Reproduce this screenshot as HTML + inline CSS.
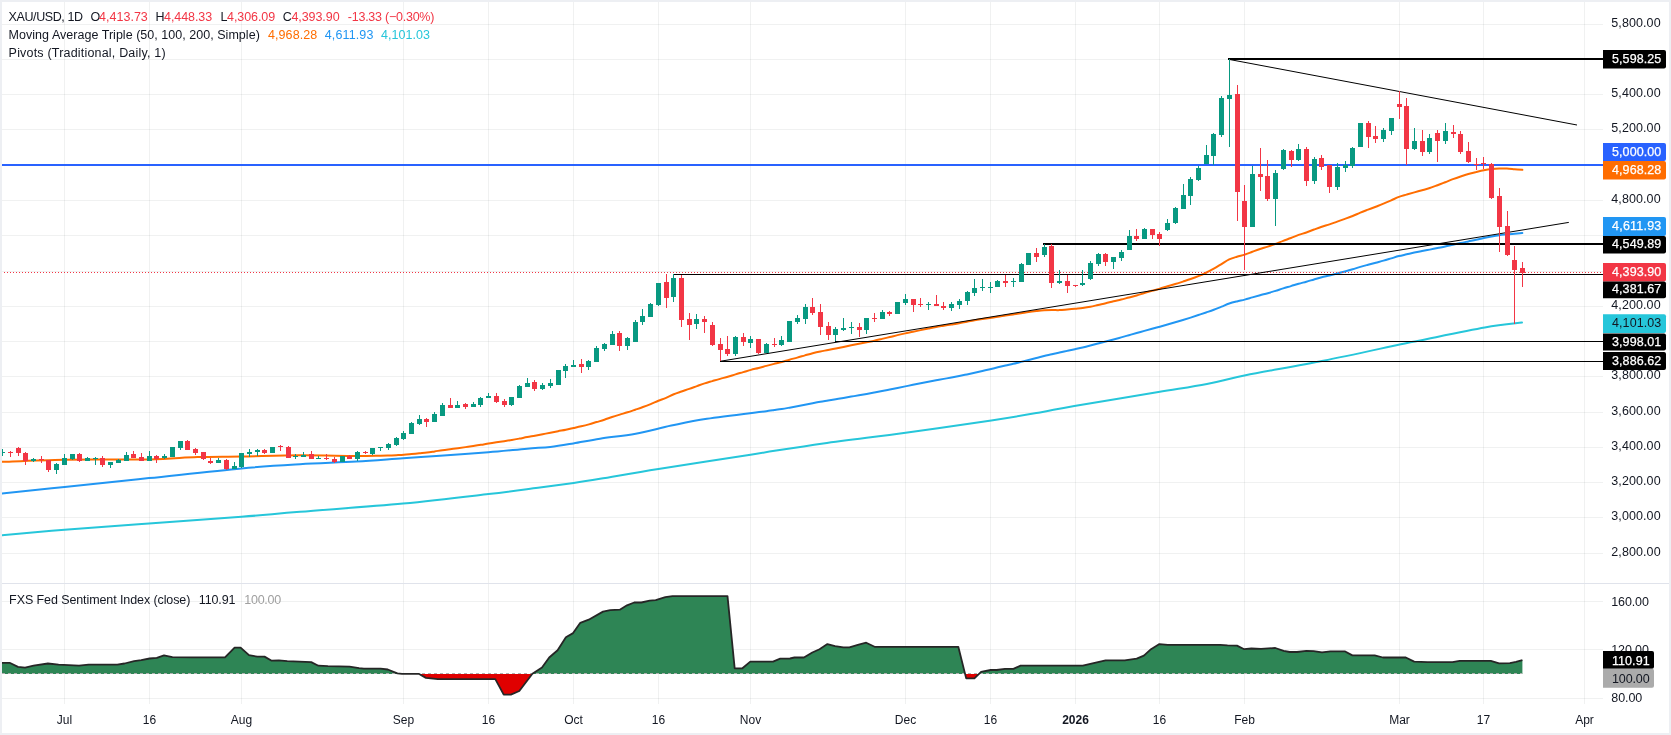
<!DOCTYPE html>
<html><head><meta charset="utf-8"><style>
html,body{margin:0;padding:0;}
body{width:1671px;height:735px;overflow:hidden;position:relative;background:#edeff3;}
#c{position:absolute;left:2px;top:2px;width:1667px;height:731px;background:#fff;}
</style></head><body><div id="c"></div>
<svg width="1671" height="735" style="position:absolute;left:0;top:0;will-change:transform"><g shape-rendering="crispEdges" stroke="rgba(42,50,50,0.07)" stroke-width="1"><line x1="64.5" y1="2" x2="64.5" y2="704"/><line x1="149.5" y1="2" x2="149.5" y2="704"/><line x1="241.5" y1="2" x2="241.5" y2="704"/><line x1="403.5" y1="2" x2="403.5" y2="704"/><line x1="488.5" y1="2" x2="488.5" y2="704"/><line x1="573.5" y1="2" x2="573.5" y2="704"/><line x1="658.5" y1="2" x2="658.5" y2="704"/><line x1="750.5" y1="2" x2="750.5" y2="704"/><line x1="905.5" y1="2" x2="905.5" y2="704"/><line x1="990.5" y1="2" x2="990.5" y2="704"/><line x1="1075.5" y1="2" x2="1075.5" y2="704"/><line x1="1159.5" y1="2" x2="1159.5" y2="704"/><line x1="1244.5" y1="2" x2="1244.5" y2="704"/><line x1="1399.5" y1="2" x2="1399.5" y2="704"/><line x1="1483.5" y1="2" x2="1483.5" y2="704"/><line x1="1584.5" y1="2" x2="1584.5" y2="704"/><line x1="2" y1="553.5" x2="1603" y2="553.5"/><line x1="2" y1="517.5" x2="1603" y2="517.5"/><line x1="2" y1="482.5" x2="1603" y2="482.5"/><line x1="2" y1="447.5" x2="1603" y2="447.5"/><line x1="2" y1="412.5" x2="1603" y2="412.5"/><line x1="2" y1="376.5" x2="1603" y2="376.5"/><line x1="2" y1="341.5" x2="1603" y2="341.5"/><line x1="2" y1="306.5" x2="1603" y2="306.5"/><line x1="2" y1="271.5" x2="1603" y2="271.5"/><line x1="2" y1="235.5" x2="1603" y2="235.5"/><line x1="2" y1="200.5" x2="1603" y2="200.5"/><line x1="2" y1="165.5" x2="1603" y2="165.5"/><line x1="2" y1="129.5" x2="1603" y2="129.5"/><line x1="2" y1="94.5" x2="1603" y2="94.5"/><line x1="2" y1="59.5" x2="1603" y2="59.5"/><line x1="2" y1="24.5" x2="1603" y2="24.5"/><line x1="2" y1="698.5" x2="1603" y2="698.5"/><line x1="2" y1="649.5" x2="1603" y2="649.5"/><line x1="2" y1="601.5" x2="1603" y2="601.5"/></g><rect x="2" y="583" width="1667" height="1" fill="#e0e3eb"/><defs><clipPath id="mainclip"><rect x="2" y="2" width="1601" height="581"/></clipPath><clipPath id="indclip"><rect x="2" y="584" width="1601" height="120"/></clipPath></defs><g clip-path="url(#mainclip)"><path d="M1.00,535.30 C11.60,534.38 39.93,531.77 64.60,529.80 C89.27,527.83 119.52,525.67 149.00,523.50 C178.48,521.33 216.33,518.75 241.50,516.80 C266.67,514.85 273.07,514.00 300.00,511.80 C326.93,509.60 371.70,506.55 403.10,503.60 C434.50,500.65 465.92,496.75 488.40,494.10 C510.88,491.45 523.78,489.57 538.00,487.70 C552.22,485.83 563.37,484.38 573.70,482.90 C584.03,481.42 585.88,481.13 600.00,478.80 C614.12,476.47 633.32,472.92 658.40,468.90 C683.48,464.88 723.03,458.95 750.50,454.70 C777.97,450.45 797.35,447.07 823.20,443.40 C849.05,439.73 877.58,436.53 905.60,432.70 C933.62,428.87 968.90,423.78 991.30,420.40 C1013.70,417.02 1026.17,414.80 1040.00,412.40 C1053.83,410.00 1054.57,409.38 1074.30,406.00 C1094.03,402.62 1136.30,395.77 1158.40,392.10 C1180.50,388.43 1192.37,386.80 1206.90,384.00 C1221.43,381.20 1226.22,379.17 1245.60,375.30 C1264.98,371.43 1297.33,365.97 1323.20,360.80 C1349.07,355.63 1384.63,347.70 1400.80,344.30 C1416.97,340.90 1406.20,343.20 1420.20,340.40 C1434.20,337.60 1467.83,330.47 1484.80,327.50 C1501.77,324.53 1515.80,323.42 1522.00,322.60" fill="none" stroke="#26c6da" stroke-width="2" stroke-linecap="round"/><path d="M1.00,493.60 C11.60,492.50 39.93,489.58 64.60,487.00 C89.27,484.42 119.52,481.20 149.00,478.10 C178.48,475.00 216.33,470.72 241.50,468.40 C266.67,466.08 280.85,465.33 300.00,464.20 C319.15,463.07 339.22,462.60 356.40,461.60 C373.58,460.60 389.17,459.17 403.10,458.20 C417.03,457.23 425.78,456.78 440.00,455.80 C454.22,454.82 473.90,453.48 488.40,452.30 C502.90,451.12 516.68,449.60 527.00,448.70 C537.32,447.80 542.58,447.78 550.30,446.90 C558.02,446.02 565.02,444.77 573.30,443.40 C581.58,442.03 589.60,440.32 600.00,438.70 C610.40,437.08 623.82,435.88 635.70,433.70 C647.58,431.52 659.43,428.08 671.30,425.60 C683.17,423.12 691.05,421.20 706.90,418.80 C722.75,416.40 755.18,412.62 766.37,411.17 C777.57,409.72 771.52,410.47 774.09,410.10 C776.66,409.73 779.23,409.38 781.80,408.97 C784.37,408.57 786.94,408.11 789.52,407.66 C792.09,407.20 794.66,406.72 797.23,406.23 C799.80,405.74 802.37,405.20 804.94,404.71 C807.52,404.21 810.09,403.72 812.66,403.24 C815.23,402.75 817.80,402.26 820.37,401.81 C822.94,401.35 825.51,400.95 828.09,400.51 C830.66,400.08 833.23,399.65 835.80,399.22 C838.37,398.80 840.94,398.39 843.51,397.96 C846.09,397.52 848.66,397.05 851.23,396.61 C853.80,396.18 856.37,395.78 858.94,395.33 C861.51,394.88 864.08,394.41 866.66,393.93 C869.23,393.45 871.80,392.96 874.37,392.47 C876.94,391.98 879.51,391.47 882.08,390.97 C884.66,390.48 887.23,390.01 889.80,389.51 C892.37,389.01 894.94,388.50 897.51,387.98 C900.08,387.46 902.65,386.92 905.23,386.39 C907.80,385.87 910.37,385.34 912.94,384.83 C915.51,384.32 918.08,383.82 920.65,383.31 C923.23,382.80 925.80,382.28 928.37,381.77 C930.94,381.26 933.51,380.75 936.08,380.27 C938.65,379.78 941.22,379.33 943.80,378.87 C946.37,378.41 948.94,377.98 951.51,377.50 C954.08,377.03 956.65,376.53 959.22,376.02 C961.80,375.50 964.37,374.96 966.94,374.41 C969.51,373.86 972.08,373.29 974.65,372.71 C977.22,372.13 979.79,371.53 982.37,370.95 C984.94,370.37 987.51,369.82 990.08,369.22 C992.65,368.61 995.22,367.95 997.79,367.33 C1000.37,366.71 1002.94,366.09 1005.51,365.50 C1008.08,364.91 1010.65,364.38 1013.22,363.78 C1015.79,363.18 1018.36,362.54 1020.94,361.90 C1023.51,361.26 1026.08,360.59 1028.65,359.93 C1031.22,359.28 1033.79,358.63 1036.36,357.97 C1038.94,357.31 1041.51,356.58 1044.08,355.97 C1046.65,355.36 1049.22,354.90 1051.79,354.33 C1054.36,353.76 1056.93,353.14 1059.51,352.57 C1062.08,351.99 1064.65,351.44 1067.22,350.87 C1069.79,350.31 1072.36,349.75 1074.93,349.18 C1077.51,348.60 1080.08,348.04 1082.65,347.42 C1085.22,346.81 1087.79,346.14 1090.36,345.47 C1092.93,344.81 1095.50,344.10 1098.08,343.43 C1100.65,342.75 1103.22,342.08 1105.79,341.42 C1108.36,340.75 1110.93,340.10 1113.50,339.43 C1116.08,338.75 1118.65,338.06 1121.22,337.36 C1123.79,336.65 1126.36,335.92 1128.93,335.20 C1131.50,334.48 1134.07,333.78 1136.65,333.06 C1139.22,332.34 1141.79,331.59 1144.36,330.87 C1146.93,330.15 1149.50,329.44 1152.07,328.74 C1154.65,328.04 1157.22,327.39 1159.79,326.68 C1162.36,325.98 1164.93,325.27 1167.50,324.54 C1170.07,323.80 1172.64,323.04 1175.22,322.29 C1177.79,321.53 1180.36,320.79 1182.93,320.01 C1185.50,319.23 1188.07,318.43 1190.64,317.61 C1193.22,316.78 1195.79,315.92 1198.36,315.07 C1200.93,314.21 1203.50,313.36 1206.07,312.48 C1208.64,311.59 1211.21,310.73 1213.79,309.76 C1216.36,308.79 1218.93,307.70 1221.50,306.66 C1224.07,305.63 1226.64,304.44 1229.21,303.56 C1231.79,302.69 1234.36,302.06 1236.93,301.41 C1239.50,300.75 1242.07,300.30 1244.64,299.63 C1247.21,298.96 1249.78,298.13 1252.36,297.39 C1254.93,296.65 1257.50,295.91 1260.07,295.20 C1262.64,294.50 1265.21,293.89 1267.78,293.17 C1270.36,292.44 1272.93,291.64 1275.50,290.85 C1278.07,290.05 1280.64,289.17 1283.21,288.38 C1285.78,287.59 1288.35,286.88 1290.93,286.11 C1293.50,285.35 1296.07,284.51 1298.64,283.77 C1301.21,283.03 1303.78,282.41 1306.35,281.69 C1308.93,280.97 1311.50,280.17 1314.07,279.43 C1316.64,278.69 1319.21,277.93 1321.78,277.26 C1324.35,276.60 1326.92,276.07 1329.50,275.43 C1332.07,274.79 1334.64,274.10 1337.21,273.44 C1339.78,272.77 1342.35,272.13 1344.92,271.43 C1347.50,270.73 1350.07,270.01 1352.64,269.24 C1355.21,268.48 1357.78,267.61 1360.35,266.86 C1362.92,266.11 1365.49,265.44 1368.07,264.75 C1370.64,264.05 1373.21,263.38 1375.78,262.70 C1378.35,262.01 1380.92,261.37 1383.49,260.65 C1386.07,259.93 1388.64,259.14 1391.21,258.38 C1393.78,257.61 1396.35,256.74 1398.92,256.07 C1401.49,255.39 1404.06,254.92 1406.64,254.34 C1409.21,253.76 1411.78,253.13 1414.35,252.59 C1416.92,252.04 1419.49,251.56 1422.06,251.07 C1424.64,250.57 1427.21,250.12 1429.78,249.62 C1432.35,249.11 1434.92,248.55 1437.49,248.04 C1440.06,247.54 1442.63,247.13 1445.21,246.58 C1447.78,246.02 1450.35,245.31 1452.92,244.72 C1455.49,244.12 1458.06,243.54 1460.63,242.99 C1463.21,242.44 1465.78,241.94 1468.35,241.42 C1470.92,240.89 1473.49,240.41 1476.06,239.85 C1478.63,239.28 1481.20,238.59 1483.78,238.04 C1486.35,237.48 1488.92,236.98 1491.49,236.52 C1494.06,236.05 1496.63,235.60 1499.20,235.25 C1501.78,234.90 1504.35,234.69 1506.92,234.43 C1509.49,234.18 1512.06,233.95 1514.63,233.72 C1517.20,233.49 1521.06,233.16 1522.35,233.05" fill="none" stroke="#2196f3" stroke-width="2" stroke-linecap="round"/><path d="M1.00,461.90 C11.60,461.53 39.93,460.12 64.60,459.70 C89.27,459.28 126.85,459.83 149.00,459.40 C171.15,458.97 182.08,457.58 197.50,457.10 C212.92,456.62 224.42,456.80 241.50,456.50 C258.58,456.20 281.08,455.38 300.00,455.30 C318.92,455.22 341.55,455.94 355.00,456.00 C368.45,456.06 375.11,455.74 380.67,455.65 C386.24,455.57 385.82,455.57 388.39,455.49 C390.96,455.42 393.53,455.31 396.10,455.20 C398.67,455.08 401.24,455.00 403.82,454.81 C406.39,454.62 408.96,454.32 411.53,454.06 C414.10,453.80 416.67,453.52 419.24,453.26 C421.82,453.00 424.39,452.81 426.96,452.50 C429.53,452.19 432.10,451.77 434.67,451.39 C437.24,451.01 439.81,450.57 442.39,450.21 C444.96,449.84 447.53,449.53 450.10,449.20 C452.67,448.87 455.24,448.56 457.81,448.22 C460.39,447.87 462.96,447.49 465.53,447.13 C468.10,446.77 470.67,446.43 473.24,446.05 C475.81,445.67 478.38,445.28 480.96,444.85 C483.53,444.42 486.10,443.90 488.67,443.48 C491.24,443.05 493.81,442.66 496.38,442.28 C498.96,441.90 501.53,441.56 504.10,441.18 C506.67,440.81 509.24,440.46 511.81,440.02 C514.38,439.59 516.95,439.09 519.53,438.59 C522.10,438.09 524.67,437.52 527.24,437.04 C529.81,436.55 532.38,436.16 534.95,435.69 C537.53,435.22 540.10,434.70 542.67,434.22 C545.24,433.73 547.81,433.26 550.38,432.76 C552.95,432.26 555.52,431.72 558.10,431.22 C560.67,430.71 563.24,430.25 565.81,429.72 C568.38,429.19 570.95,428.59 573.52,428.02 C576.10,427.46 578.67,426.92 581.24,426.31 C583.81,425.70 586.38,425.06 588.95,424.36 C591.52,423.65 594.09,422.83 596.67,422.06 C599.24,421.29 601.81,420.58 604.38,419.74 C606.95,418.90 609.52,417.89 612.09,417.03 C614.67,416.18 617.24,415.41 619.81,414.63 C622.38,413.84 624.95,413.14 627.52,412.32 C630.09,411.51 632.66,410.60 635.24,409.72 C637.81,408.84 640.38,407.99 642.95,407.04 C645.52,406.10 648.09,405.11 650.66,404.06 C653.24,403.02 655.81,401.82 658.38,400.78 C660.95,399.74 663.52,398.90 666.09,397.80 C668.66,396.71 671.23,395.26 673.81,394.21 C676.38,393.16 678.95,392.38 681.52,391.50 C684.09,390.61 686.66,389.79 689.23,388.89 C691.81,387.99 694.38,387.02 696.95,386.10 C699.52,385.18 702.09,384.20 704.66,383.37 C707.23,382.54 709.80,381.85 712.38,381.09 C714.95,380.33 717.52,379.55 720.09,378.84 C722.66,378.12 725.23,377.54 727.80,376.80 C730.38,376.05 732.95,375.13 735.52,374.35 C738.09,373.58 740.66,372.89 743.23,372.14 C745.80,371.40 748.37,370.56 750.95,369.86 C753.52,369.17 756.09,368.62 758.66,367.95 C761.23,367.29 763.80,366.57 766.37,365.89 C768.95,365.22 771.52,364.56 774.09,363.90 C776.66,363.25 779.23,362.64 781.80,361.95 C784.37,361.25 786.94,360.43 789.52,359.71 C792.09,358.98 794.66,358.33 797.23,357.60 C799.80,356.88 802.37,356.09 804.94,355.35 C807.52,354.61 810.09,353.83 812.66,353.17 C815.23,352.52 817.80,351.95 820.37,351.43 C822.94,350.90 825.51,350.52 828.09,350.02 C830.66,349.52 833.23,348.97 835.80,348.45 C838.37,347.93 840.94,347.42 843.51,346.90 C846.09,346.38 848.66,345.81 851.23,345.30 C853.80,344.78 856.37,344.33 858.94,343.81 C861.51,343.30 864.08,342.74 866.66,342.21 C869.23,341.69 871.80,341.22 874.37,340.66 C876.94,340.10 879.51,339.47 882.08,338.86 C884.66,338.26 887.23,337.66 889.80,337.04 C892.37,336.42 894.94,335.74 897.51,335.13 C900.08,334.53 902.65,333.94 905.23,333.39 C907.80,332.84 910.37,332.36 912.94,331.82 C915.51,331.28 918.08,330.69 920.65,330.14 C923.23,329.59 925.80,329.05 928.37,328.52 C930.94,327.99 933.51,327.44 936.08,326.97 C938.65,326.51 941.22,326.14 943.80,325.73 C946.37,325.31 948.94,324.91 951.51,324.49 C954.08,324.07 956.65,323.67 959.22,323.21 C961.80,322.75 964.37,322.20 966.94,321.71 C969.51,321.22 972.08,320.71 974.65,320.26 C977.22,319.81 979.79,319.43 982.37,319.03 C984.94,318.64 987.51,318.26 990.08,317.89 C992.65,317.52 995.22,317.22 997.79,316.83 C1000.37,316.45 1002.94,315.97 1005.51,315.57 C1008.08,315.17 1010.65,314.81 1013.22,314.43 C1015.79,314.05 1018.36,313.68 1020.94,313.28 C1023.51,312.88 1026.08,312.39 1028.65,312.02 C1031.22,311.65 1033.79,311.36 1036.36,311.08 C1038.94,310.81 1041.51,310.53 1044.08,310.36 C1046.65,310.19 1049.22,310.10 1051.79,310.06 C1054.36,310.02 1056.93,310.22 1059.51,310.12 C1062.08,310.02 1064.65,309.69 1067.22,309.45 C1069.79,309.21 1072.36,308.92 1074.93,308.67 C1077.51,308.42 1080.08,308.27 1082.65,307.95 C1085.22,307.63 1087.79,307.28 1090.36,306.78 C1092.93,306.28 1095.50,305.56 1098.08,304.96 C1100.65,304.36 1103.22,303.82 1105.79,303.20 C1108.36,302.58 1110.93,301.87 1113.50,301.26 C1116.08,300.65 1118.65,300.20 1121.22,299.57 C1123.79,298.93 1126.36,298.14 1128.93,297.46 C1131.50,296.77 1134.07,296.20 1136.65,295.45 C1139.22,294.71 1141.79,293.76 1144.36,292.98 C1146.93,292.20 1149.50,291.51 1152.07,290.79 C1154.65,290.07 1157.22,289.41 1159.79,288.67 C1162.36,287.92 1164.93,287.10 1167.50,286.33 C1170.07,285.56 1172.64,284.85 1175.22,284.07 C1177.79,283.28 1180.36,282.45 1182.93,281.62 C1185.50,280.78 1188.07,279.97 1190.64,279.06 C1193.22,278.15 1195.79,277.21 1198.36,276.16 C1200.93,275.10 1203.50,273.97 1206.07,272.73 C1208.64,271.48 1211.21,270.14 1213.79,268.70 C1216.36,267.26 1218.93,265.63 1221.50,264.08 C1224.07,262.54 1226.64,260.65 1229.21,259.42 C1231.79,258.20 1234.36,257.51 1236.93,256.72 C1239.50,255.92 1242.07,255.48 1244.64,254.65 C1247.21,253.83 1249.78,252.72 1252.36,251.77 C1254.93,250.82 1257.50,249.79 1260.07,248.94 C1262.64,248.09 1265.21,247.52 1267.78,246.67 C1270.36,245.82 1272.93,244.83 1275.50,243.85 C1278.07,242.88 1280.64,241.79 1283.21,240.82 C1285.78,239.85 1288.35,239.02 1290.93,238.04 C1293.50,237.05 1296.07,235.86 1298.64,234.92 C1301.21,233.99 1303.78,233.34 1306.35,232.44 C1308.93,231.54 1311.50,230.48 1314.07,229.54 C1316.64,228.59 1319.21,227.62 1321.78,226.76 C1324.35,225.89 1326.92,225.20 1329.50,224.33 C1332.07,223.47 1334.64,222.50 1337.21,221.59 C1339.78,220.67 1342.35,219.79 1344.92,218.86 C1347.50,217.92 1350.07,217.01 1352.64,215.97 C1355.21,214.94 1357.78,213.72 1360.35,212.67 C1362.92,211.61 1365.49,210.66 1368.07,209.66 C1370.64,208.67 1373.21,207.70 1375.78,206.70 C1378.35,205.70 1380.92,204.73 1383.49,203.67 C1386.07,202.62 1388.64,201.51 1391.21,200.38 C1393.78,199.25 1396.35,197.87 1398.92,196.90 C1401.49,195.94 1404.06,195.36 1406.64,194.60 C1409.21,193.84 1411.78,193.08 1414.35,192.35 C1416.92,191.63 1419.49,190.97 1422.06,190.25 C1424.64,189.54 1427.21,188.91 1429.78,188.07 C1432.35,187.23 1434.92,186.20 1437.49,185.23 C1440.06,184.26 1442.63,183.24 1445.21,182.23 C1447.78,181.22 1450.35,180.14 1452.92,179.18 C1455.49,178.23 1458.06,177.35 1460.63,176.50 C1463.21,175.65 1465.78,174.81 1468.35,174.08 C1470.92,173.35 1473.49,172.74 1476.06,172.12 C1478.63,171.49 1481.20,170.83 1483.78,170.32 C1486.35,169.80 1488.92,169.35 1491.49,169.04 C1494.06,168.73 1496.63,168.53 1499.20,168.44 C1501.78,168.35 1504.35,168.38 1506.92,168.50 C1509.49,168.62 1512.06,168.95 1514.63,169.18 C1517.20,169.40 1521.06,169.74 1522.35,169.85" fill="none" stroke="#ff6d00" stroke-width="2" stroke-linecap="round"/><rect x="2" y="164.00" width="1601" height="2" fill="#2962ff"/><g shape-rendering="crispEdges"><rect x="1228" y="58.00" width="375" height="2" fill="#000"/><rect x="1043" y="242.80" width="560" height="2" fill="#000"/><rect x="673" y="273.80" width="930" height="1" fill="#000"/><rect x="835" y="340.80" width="768" height="1" fill="#000"/><rect x="720" y="360.80" width="883" height="1" fill="#000"/></g><line x1="1" y1="272.5" x2="1603" y2="272.5" stroke="#f23645" stroke-width="1" stroke-dasharray="1 2" shape-rendering="crispEdges"/><line x1="720" y1="361.3" x2="1568.8" y2="222.4" stroke="#000" stroke-width="1"/><line x1="1228.5" y1="59.3" x2="1577" y2="125" stroke="#000" stroke-width="1"/><g shape-rendering="crispEdges"><rect x="2" y="449" width="1" height="7" fill="#089981"/><rect x="0" y="452" width="5" height="1" fill="#089981"/><rect x="10" y="451" width="1" height="6" fill="#f23645"/><rect x="8" y="452" width="5" height="1" fill="#f23645"/><rect x="18" y="447" width="1" height="9" fill="#f23645"/><rect x="16" y="448" width="5" height="5" fill="#f23645"/><rect x="25" y="452" width="1" height="13" fill="#f23645"/><rect x="23" y="453" width="5" height="8" fill="#f23645"/><rect x="33" y="458" width="1" height="4" fill="#089981"/><rect x="31" y="459" width="5" height="2" fill="#089981"/><rect x="41" y="456" width="1" height="7" fill="#f23645"/><rect x="39" y="459" width="5" height="1" fill="#f23645"/><rect x="48" y="460" width="1" height="12" fill="#f23645"/><rect x="46" y="460" width="5" height="10" fill="#f23645"/><rect x="56" y="463" width="1" height="11" fill="#089981"/><rect x="54" y="464" width="5" height="6" fill="#089981"/><rect x="64" y="454" width="1" height="11" fill="#089981"/><rect x="62" y="458" width="5" height="7" fill="#089981"/><rect x="72" y="454" width="1" height="6" fill="#089981"/><rect x="70" y="454" width="5" height="5" fill="#089981"/><rect x="79" y="453" width="1" height="9" fill="#f23645"/><rect x="77" y="454" width="5" height="7" fill="#f23645"/><rect x="87" y="457" width="1" height="4" fill="#089981"/><rect x="85" y="458" width="5" height="3" fill="#089981"/><rect x="95" y="457" width="1" height="8" fill="#089981"/><rect x="93" y="458" width="5" height="1" fill="#089981"/><rect x="102" y="456" width="1" height="11" fill="#f23645"/><rect x="100" y="458" width="5" height="7" fill="#f23645"/><rect x="110" y="462" width="1" height="6" fill="#089981"/><rect x="108" y="462" width="5" height="3" fill="#089981"/><rect x="118" y="459" width="1" height="4" fill="#089981"/><rect x="116" y="460" width="5" height="3" fill="#089981"/><rect x="126" y="452" width="1" height="9" fill="#089981"/><rect x="124" y="455" width="5" height="6" fill="#089981"/><rect x="133" y="451" width="1" height="7" fill="#f23645"/><rect x="131" y="454" width="5" height="4" fill="#f23645"/><rect x="141" y="453" width="1" height="8" fill="#f23645"/><rect x="139" y="457" width="5" height="4" fill="#f23645"/><rect x="149" y="451" width="1" height="10" fill="#089981"/><rect x="147" y="456" width="5" height="5" fill="#089981"/><rect x="156" y="455" width="1" height="8" fill="#f23645"/><rect x="154" y="456" width="5" height="3" fill="#f23645"/><rect x="164" y="454" width="1" height="5" fill="#089981"/><rect x="162" y="456" width="5" height="2" fill="#089981"/><rect x="172" y="447" width="1" height="10" fill="#089981"/><rect x="170" y="447" width="5" height="10" fill="#089981"/><rect x="180" y="441" width="1" height="9" fill="#089981"/><rect x="178" y="441" width="5" height="7" fill="#089981"/><rect x="187" y="440" width="1" height="10" fill="#f23645"/><rect x="185" y="441" width="5" height="9" fill="#f23645"/><rect x="195" y="448" width="1" height="7" fill="#f23645"/><rect x="193" y="449" width="5" height="4" fill="#f23645"/><rect x="203" y="452" width="1" height="8" fill="#f23645"/><rect x="201" y="452" width="5" height="7" fill="#f23645"/><rect x="210" y="458" width="1" height="6" fill="#f23645"/><rect x="208" y="461" width="5" height="2" fill="#f23645"/><rect x="218" y="458" width="1" height="5" fill="#089981"/><rect x="216" y="460" width="5" height="3" fill="#089981"/><rect x="226" y="459" width="1" height="11" fill="#f23645"/><rect x="224" y="460" width="5" height="9" fill="#f23645"/><rect x="234" y="462" width="1" height="7" fill="#089981"/><rect x="232" y="466" width="5" height="3" fill="#089981"/><rect x="241" y="453" width="1" height="15" fill="#089981"/><rect x="239" y="453" width="5" height="14" fill="#089981"/><rect x="249" y="449" width="1" height="8" fill="#089981"/><rect x="247" y="452" width="5" height="2" fill="#089981"/><rect x="257" y="449" width="1" height="7" fill="#089981"/><rect x="255" y="450" width="5" height="2" fill="#089981"/><rect x="264" y="449" width="1" height="5" fill="#f23645"/><rect x="262" y="450" width="5" height="3" fill="#f23645"/><rect x="272" y="447" width="1" height="6" fill="#089981"/><rect x="270" y="447" width="5" height="6" fill="#089981"/><rect x="280" y="445" width="1" height="6" fill="#f23645"/><rect x="278" y="446" width="5" height="1" fill="#f23645"/><rect x="288" y="446" width="1" height="12" fill="#f23645"/><rect x="286" y="447" width="5" height="11" fill="#f23645"/><rect x="295" y="454" width="1" height="5" fill="#089981"/><rect x="293" y="456" width="5" height="1" fill="#089981"/><rect x="303" y="452" width="1" height="5" fill="#089981"/><rect x="301" y="455" width="5" height="2" fill="#089981"/><rect x="311" y="451" width="1" height="8" fill="#f23645"/><rect x="309" y="454" width="5" height="5" fill="#f23645"/><rect x="318" y="456" width="1" height="3" fill="#089981"/><rect x="316" y="458" width="5" height="1" fill="#089981"/><rect x="326" y="454" width="1" height="6" fill="#f23645"/><rect x="324" y="458" width="5" height="1" fill="#f23645"/><rect x="334" y="457" width="1" height="6" fill="#f23645"/><rect x="332" y="459" width="5" height="3" fill="#f23645"/><rect x="342" y="456" width="1" height="6" fill="#089981"/><rect x="340" y="456" width="5" height="6" fill="#089981"/><rect x="349" y="455" width="1" height="4" fill="#f23645"/><rect x="347" y="456" width="5" height="3" fill="#f23645"/><rect x="357" y="451" width="1" height="10" fill="#089981"/><rect x="355" y="452" width="5" height="7" fill="#089981"/><rect x="365" y="451" width="1" height="3" fill="#f23645"/><rect x="363" y="452" width="5" height="1" fill="#f23645"/><rect x="372" y="448" width="1" height="7" fill="#089981"/><rect x="370" y="448" width="5" height="6" fill="#089981"/><rect x="380" y="447" width="1" height="4" fill="#089981"/><rect x="378" y="447" width="5" height="1" fill="#089981"/><rect x="388" y="443" width="1" height="7" fill="#089981"/><rect x="386" y="444" width="5" height="4" fill="#089981"/><rect x="396" y="437" width="1" height="9" fill="#089981"/><rect x="394" y="438" width="5" height="7" fill="#089981"/><rect x="403" y="431" width="1" height="9" fill="#089981"/><rect x="401" y="433" width="5" height="6" fill="#089981"/><rect x="411" y="422" width="1" height="12" fill="#089981"/><rect x="409" y="423" width="5" height="11" fill="#089981"/><rect x="419" y="415" width="1" height="10" fill="#089981"/><rect x="417" y="419" width="5" height="5" fill="#089981"/><rect x="426" y="418" width="1" height="9" fill="#f23645"/><rect x="424" y="419" width="5" height="3" fill="#f23645"/><rect x="434" y="412" width="1" height="10" fill="#089981"/><rect x="432" y="414" width="5" height="8" fill="#089981"/><rect x="442" y="403" width="1" height="13" fill="#089981"/><rect x="440" y="405" width="5" height="11" fill="#089981"/><rect x="450" y="398" width="1" height="10" fill="#f23645"/><rect x="448" y="405" width="5" height="3" fill="#f23645"/><rect x="457" y="401" width="1" height="7" fill="#089981"/><rect x="455" y="405" width="5" height="3" fill="#089981"/><rect x="465" y="403" width="1" height="6" fill="#f23645"/><rect x="463" y="404" width="5" height="3" fill="#f23645"/><rect x="473" y="402" width="1" height="5" fill="#089981"/><rect x="471" y="404" width="5" height="3" fill="#089981"/><rect x="480" y="397" width="1" height="10" fill="#089981"/><rect x="478" y="398" width="5" height="7" fill="#089981"/><rect x="488" y="393" width="1" height="5" fill="#089981"/><rect x="486" y="396" width="5" height="2" fill="#089981"/><rect x="496" y="393" width="1" height="10" fill="#f23645"/><rect x="494" y="396" width="5" height="6" fill="#f23645"/><rect x="504" y="399" width="1" height="8" fill="#f23645"/><rect x="502" y="401" width="5" height="4" fill="#f23645"/><rect x="511" y="397" width="1" height="9" fill="#089981"/><rect x="509" y="397" width="5" height="8" fill="#089981"/><rect x="519" y="385" width="1" height="13" fill="#089981"/><rect x="517" y="386" width="5" height="12" fill="#089981"/><rect x="527" y="378" width="1" height="9" fill="#089981"/><rect x="525" y="383" width="5" height="4" fill="#089981"/><rect x="534" y="380" width="1" height="11" fill="#f23645"/><rect x="532" y="382" width="5" height="7" fill="#f23645"/><rect x="542" y="383" width="1" height="7" fill="#089981"/><rect x="540" y="385" width="5" height="4" fill="#089981"/><rect x="550" y="379" width="1" height="9" fill="#089981"/><rect x="548" y="383" width="5" height="3" fill="#089981"/><rect x="558" y="370" width="1" height="15" fill="#089981"/><rect x="556" y="370" width="5" height="15" fill="#089981"/><rect x="565" y="364" width="1" height="14" fill="#089981"/><rect x="563" y="366" width="5" height="5" fill="#089981"/><rect x="573" y="360" width="1" height="7" fill="#089981"/><rect x="571" y="365" width="5" height="2" fill="#089981"/><rect x="581" y="359" width="1" height="14" fill="#f23645"/><rect x="579" y="364" width="5" height="3" fill="#f23645"/><rect x="588" y="360" width="1" height="10" fill="#089981"/><rect x="586" y="361" width="5" height="6" fill="#089981"/><rect x="596" y="346" width="1" height="16" fill="#089981"/><rect x="594" y="348" width="5" height="14" fill="#089981"/><rect x="604" y="343" width="1" height="8" fill="#089981"/><rect x="602" y="344" width="5" height="5" fill="#089981"/><rect x="612" y="331" width="1" height="14" fill="#089981"/><rect x="610" y="334" width="5" height="11" fill="#089981"/><rect x="619" y="331" width="1" height="20" fill="#f23645"/><rect x="617" y="333" width="5" height="13" fill="#f23645"/><rect x="627" y="337" width="1" height="13" fill="#089981"/><rect x="625" y="338" width="5" height="8" fill="#089981"/><rect x="635" y="320" width="1" height="22" fill="#089981"/><rect x="633" y="322" width="5" height="20" fill="#089981"/><rect x="642" y="309" width="1" height="16" fill="#089981"/><rect x="640" y="316" width="5" height="6" fill="#089981"/><rect x="650" y="303" width="1" height="14" fill="#089981"/><rect x="648" y="304" width="5" height="13" fill="#089981"/><rect x="658" y="283" width="1" height="23" fill="#089981"/><rect x="656" y="283" width="5" height="22" fill="#089981"/><rect x="666" y="274" width="1" height="34" fill="#f23645"/><rect x="664" y="282" width="5" height="16" fill="#f23645"/><rect x="673" y="274" width="1" height="28" fill="#089981"/><rect x="671" y="278" width="5" height="19" fill="#089981"/><rect x="681" y="275" width="1" height="52" fill="#f23645"/><rect x="679" y="278" width="5" height="42" fill="#f23645"/><rect x="689" y="313" width="1" height="27" fill="#f23645"/><rect x="687" y="319" width="5" height="6" fill="#f23645"/><rect x="696" y="314" width="1" height="15" fill="#089981"/><rect x="694" y="319" width="5" height="5" fill="#089981"/><rect x="704" y="316" width="1" height="17" fill="#f23645"/><rect x="702" y="319" width="5" height="3" fill="#f23645"/><rect x="712" y="322" width="1" height="24" fill="#f23645"/><rect x="710" y="325" width="5" height="20" fill="#f23645"/><rect x="720" y="338" width="1" height="23" fill="#f23645"/><rect x="718" y="344" width="5" height="6" fill="#f23645"/><rect x="727" y="336" width="1" height="20" fill="#f23645"/><rect x="725" y="349" width="5" height="5" fill="#f23645"/><rect x="735" y="336" width="1" height="20" fill="#089981"/><rect x="733" y="337" width="5" height="17" fill="#089981"/><rect x="743" y="333" width="1" height="13" fill="#f23645"/><rect x="741" y="337" width="5" height="5" fill="#f23645"/><rect x="750" y="336" width="1" height="12" fill="#089981"/><rect x="748" y="339" width="5" height="4" fill="#089981"/><rect x="758" y="339" width="1" height="15" fill="#f23645"/><rect x="756" y="339" width="5" height="14" fill="#f23645"/><rect x="766" y="343" width="1" height="10" fill="#089981"/><rect x="764" y="344" width="5" height="9" fill="#089981"/><rect x="774" y="338" width="1" height="9" fill="#f23645"/><rect x="772" y="344" width="5" height="1" fill="#f23645"/><rect x="781" y="336" width="1" height="10" fill="#089981"/><rect x="779" y="340" width="5" height="5" fill="#089981"/><rect x="789" y="321" width="1" height="21" fill="#089981"/><rect x="787" y="321" width="5" height="21" fill="#089981"/><rect x="797" y="315" width="1" height="9" fill="#089981"/><rect x="795" y="318" width="5" height="4" fill="#089981"/><rect x="805" y="304" width="1" height="20" fill="#089981"/><rect x="803" y="307" width="5" height="12" fill="#089981"/><rect x="812" y="298" width="1" height="17" fill="#f23645"/><rect x="810" y="307" width="5" height="6" fill="#f23645"/><rect x="820" y="304" width="1" height="31" fill="#f23645"/><rect x="818" y="312" width="5" height="15" fill="#f23645"/><rect x="828" y="322" width="1" height="18" fill="#f23645"/><rect x="826" y="326" width="5" height="9" fill="#f23645"/><rect x="835" y="327" width="1" height="14" fill="#089981"/><rect x="833" y="329" width="5" height="6" fill="#089981"/><rect x="843" y="318" width="1" height="13" fill="#089981"/><rect x="841" y="328" width="5" height="2" fill="#089981"/><rect x="851" y="322" width="1" height="12" fill="#089981"/><rect x="849" y="327" width="5" height="1" fill="#089981"/><rect x="859" y="323" width="1" height="14" fill="#f23645"/><rect x="857" y="327" width="5" height="3" fill="#f23645"/><rect x="866" y="318" width="1" height="16" fill="#089981"/><rect x="864" y="318" width="5" height="12" fill="#089981"/><rect x="874" y="313" width="1" height="9" fill="#f23645"/><rect x="872" y="318" width="5" height="1" fill="#f23645"/><rect x="882" y="310" width="1" height="9" fill="#089981"/><rect x="880" y="312" width="5" height="7" fill="#089981"/><rect x="889" y="311" width="1" height="5" fill="#f23645"/><rect x="887" y="312" width="5" height="2" fill="#f23645"/><rect x="897" y="302" width="1" height="12" fill="#089981"/><rect x="895" y="302" width="5" height="12" fill="#089981"/><rect x="905" y="294" width="1" height="11" fill="#089981"/><rect x="903" y="299" width="5" height="4" fill="#089981"/><rect x="913" y="299" width="1" height="13" fill="#f23645"/><rect x="911" y="299" width="5" height="6" fill="#f23645"/><rect x="920" y="298" width="1" height="9" fill="#f23645"/><rect x="918" y="304" width="5" height="1" fill="#f23645"/><rect x="928" y="302" width="1" height="8" fill="#089981"/><rect x="926" y="304" width="5" height="1" fill="#089981"/><rect x="936" y="295" width="1" height="11" fill="#f23645"/><rect x="934" y="304" width="5" height="2" fill="#f23645"/><rect x="943" y="302" width="1" height="8" fill="#f23645"/><rect x="941" y="306" width="5" height="2" fill="#f23645"/><rect x="951" y="302" width="1" height="9" fill="#089981"/><rect x="949" y="304" width="5" height="4" fill="#089981"/><rect x="959" y="299" width="1" height="10" fill="#089981"/><rect x="957" y="301" width="5" height="4" fill="#089981"/><rect x="967" y="291" width="1" height="14" fill="#089981"/><rect x="965" y="292" width="5" height="9" fill="#089981"/><rect x="974" y="279" width="1" height="17" fill="#089981"/><rect x="972" y="288" width="5" height="5" fill="#089981"/><rect x="982" y="279" width="1" height="12" fill="#089981"/><rect x="980" y="287" width="5" height="1" fill="#089981"/><rect x="990" y="282" width="1" height="11" fill="#089981"/><rect x="988" y="287" width="5" height="1" fill="#089981"/><rect x="997" y="280" width="1" height="7" fill="#089981"/><rect x="995" y="281" width="5" height="6" fill="#089981"/><rect x="1005" y="275" width="1" height="12" fill="#f23645"/><rect x="1003" y="281" width="5" height="2" fill="#f23645"/><rect x="1013" y="278" width="1" height="9" fill="#089981"/><rect x="1011" y="281" width="5" height="1" fill="#089981"/><rect x="1021" y="263" width="1" height="19" fill="#089981"/><rect x="1019" y="264" width="5" height="18" fill="#089981"/><rect x="1028" y="253" width="1" height="12" fill="#089981"/><rect x="1026" y="253" width="5" height="12" fill="#089981"/><rect x="1036" y="248" width="1" height="14" fill="#f23645"/><rect x="1034" y="253" width="5" height="4" fill="#f23645"/><rect x="1044" y="244" width="1" height="13" fill="#089981"/><rect x="1042" y="247" width="5" height="8" fill="#089981"/><rect x="1051" y="244" width="1" height="44" fill="#f23645"/><rect x="1049" y="246" width="5" height="37" fill="#f23645"/><rect x="1059" y="270" width="1" height="14" fill="#089981"/><rect x="1057" y="281" width="5" height="2" fill="#089981"/><rect x="1067" y="275" width="1" height="18" fill="#f23645"/><rect x="1065" y="281" width="5" height="5" fill="#f23645"/><rect x="1075" y="285" width="1" height="2" fill="#f23645"/><rect x="1073" y="285" width="5" height="1" fill="#f23645"/><rect x="1082" y="270" width="1" height="16" fill="#089981"/><rect x="1080" y="283" width="5" height="2" fill="#089981"/><rect x="1090" y="261" width="1" height="19" fill="#089981"/><rect x="1088" y="263" width="5" height="16" fill="#089981"/><rect x="1098" y="253" width="1" height="13" fill="#089981"/><rect x="1096" y="254" width="5" height="10" fill="#089981"/><rect x="1105" y="253" width="1" height="13" fill="#f23645"/><rect x="1103" y="254" width="5" height="8" fill="#f23645"/><rect x="1113" y="257" width="1" height="12" fill="#089981"/><rect x="1111" y="257" width="5" height="5" fill="#089981"/><rect x="1121" y="250" width="1" height="11" fill="#089981"/><rect x="1119" y="252" width="5" height="6" fill="#089981"/><rect x="1129" y="230" width="1" height="20" fill="#089981"/><rect x="1127" y="236" width="5" height="14" fill="#089981"/><rect x="1136" y="229" width="1" height="12" fill="#f23645"/><rect x="1134" y="236" width="5" height="3" fill="#f23645"/><rect x="1144" y="228" width="1" height="11" fill="#089981"/><rect x="1142" y="229" width="5" height="10" fill="#089981"/><rect x="1152" y="229" width="1" height="10" fill="#f23645"/><rect x="1150" y="229" width="5" height="6" fill="#f23645"/><rect x="1159" y="232" width="1" height="14" fill="#f23645"/><rect x="1157" y="234" width="5" height="5" fill="#f23645"/><rect x="1167" y="219" width="1" height="12" fill="#089981"/><rect x="1165" y="223" width="5" height="7" fill="#089981"/><rect x="1175" y="207" width="1" height="17" fill="#089981"/><rect x="1173" y="208" width="5" height="15" fill="#089981"/><rect x="1183" y="184" width="1" height="25" fill="#089981"/><rect x="1181" y="195" width="5" height="14" fill="#089981"/><rect x="1190" y="177" width="1" height="28" fill="#089981"/><rect x="1188" y="179" width="5" height="17" fill="#089981"/><rect x="1198" y="166" width="1" height="15" fill="#089981"/><rect x="1196" y="168" width="5" height="12" fill="#089981"/><rect x="1206" y="145" width="1" height="19" fill="#089981"/><rect x="1204" y="155" width="5" height="9" fill="#089981"/><rect x="1213" y="133" width="1" height="32" fill="#089981"/><rect x="1211" y="134" width="5" height="22" fill="#089981"/><rect x="1221" y="96" width="1" height="41" fill="#089981"/><rect x="1219" y="98" width="5" height="37" fill="#089981"/><rect x="1229" y="59" width="1" height="88" fill="#089981"/><rect x="1227" y="95" width="5" height="4" fill="#089981"/><rect x="1237" y="85" width="1" height="136" fill="#f23645"/><rect x="1235" y="94" width="5" height="98" fill="#f23645"/><rect x="1244" y="185" width="1" height="85" fill="#f23645"/><rect x="1242" y="201" width="5" height="26" fill="#f23645"/><rect x="1252" y="166" width="1" height="61" fill="#089981"/><rect x="1250" y="174" width="5" height="53" fill="#089981"/><rect x="1260" y="148" width="1" height="43" fill="#f23645"/><rect x="1258" y="174" width="5" height="3" fill="#f23645"/><rect x="1267" y="160" width="1" height="41" fill="#f23645"/><rect x="1265" y="176" width="5" height="23" fill="#f23645"/><rect x="1275" y="170" width="1" height="56" fill="#089981"/><rect x="1273" y="173" width="5" height="26" fill="#089981"/><rect x="1283" y="149" width="1" height="21" fill="#089981"/><rect x="1281" y="150" width="5" height="19" fill="#089981"/><rect x="1291" y="150" width="1" height="17" fill="#f23645"/><rect x="1289" y="151" width="5" height="9" fill="#f23645"/><rect x="1298" y="144" width="1" height="17" fill="#089981"/><rect x="1296" y="149" width="5" height="11" fill="#089981"/><rect x="1306" y="147" width="1" height="39" fill="#f23645"/><rect x="1304" y="149" width="5" height="32" fill="#f23645"/><rect x="1314" y="157" width="1" height="27" fill="#089981"/><rect x="1312" y="159" width="5" height="22" fill="#089981"/><rect x="1321" y="155" width="1" height="15" fill="#f23645"/><rect x="1319" y="158" width="5" height="9" fill="#f23645"/><rect x="1329" y="165" width="1" height="28" fill="#f23645"/><rect x="1327" y="165" width="5" height="22" fill="#f23645"/><rect x="1337" y="163" width="1" height="27" fill="#089981"/><rect x="1335" y="167" width="5" height="20" fill="#089981"/><rect x="1345" y="161" width="1" height="11" fill="#089981"/><rect x="1343" y="165" width="5" height="3" fill="#089981"/><rect x="1352" y="147" width="1" height="21" fill="#089981"/><rect x="1350" y="148" width="5" height="18" fill="#089981"/><rect x="1360" y="123" width="1" height="24" fill="#089981"/><rect x="1358" y="123" width="5" height="24" fill="#089981"/><rect x="1368" y="121" width="1" height="27" fill="#f23645"/><rect x="1366" y="123" width="5" height="14" fill="#f23645"/><rect x="1375" y="126" width="1" height="17" fill="#f23645"/><rect x="1373" y="136" width="5" height="3" fill="#f23645"/><rect x="1383" y="128" width="1" height="14" fill="#089981"/><rect x="1381" y="130" width="5" height="9" fill="#089981"/><rect x="1391" y="118" width="1" height="17" fill="#089981"/><rect x="1389" y="118" width="5" height="13" fill="#089981"/><rect x="1399" y="91" width="1" height="28" fill="#f23645"/><rect x="1397" y="104" width="5" height="3" fill="#f23645"/><rect x="1406" y="98" width="1" height="67" fill="#f23645"/><rect x="1404" y="106" width="5" height="43" fill="#f23645"/><rect x="1414" y="128" width="1" height="22" fill="#089981"/><rect x="1412" y="141" width="5" height="8" fill="#089981"/><rect x="1422" y="130" width="1" height="26" fill="#f23645"/><rect x="1420" y="141" width="5" height="11" fill="#f23645"/><rect x="1429" y="134" width="1" height="20" fill="#089981"/><rect x="1427" y="138" width="5" height="14" fill="#089981"/><rect x="1437" y="130" width="1" height="32" fill="#f23645"/><rect x="1435" y="133" width="5" height="8" fill="#f23645"/><rect x="1445" y="123" width="1" height="21" fill="#089981"/><rect x="1443" y="131" width="5" height="10" fill="#089981"/><rect x="1453" y="125" width="1" height="13" fill="#f23645"/><rect x="1451" y="132" width="5" height="2" fill="#f23645"/><rect x="1460" y="131" width="1" height="23" fill="#f23645"/><rect x="1458" y="134" width="5" height="18" fill="#f23645"/><rect x="1468" y="142" width="1" height="21" fill="#f23645"/><rect x="1466" y="151" width="5" height="11" fill="#f23645"/><rect x="1476" y="158" width="1" height="12" fill="#f23645"/><rect x="1474" y="164" width="5" height="1" fill="#f23645"/><rect x="1483" y="157" width="1" height="12" fill="#f23645"/><rect x="1481" y="163" width="5" height="1" fill="#f23645"/><rect x="1491" y="163" width="1" height="36" fill="#f23645"/><rect x="1489" y="164" width="5" height="34" fill="#f23645"/><rect x="1499" y="188" width="1" height="64" fill="#f23645"/><rect x="1497" y="196" width="5" height="31" fill="#f23645"/><rect x="1507" y="211" width="1" height="45" fill="#f23645"/><rect x="1505" y="226" width="5" height="29" fill="#f23645"/><rect x="1514" y="246" width="1" height="78" fill="#f23645"/><rect x="1512" y="260" width="5" height="10" fill="#f23645"/><rect x="1522" y="262" width="1" height="25" fill="#f23645"/><rect x="1520" y="268" width="5" height="5" fill="#f23645"/></g></g><g clip-path="url(#indclip)"><defs><clipPath id="up"><rect x="0" y="584" width="1671" height="90"/></clipPath><clipPath id="dn"><rect x="0" y="674" width="1671" height="30"/></clipPath></defs><path d="M2,674.0 L2.0,662.8 L9.6,662.8 L18.0,666.9 L25.1,667.6 L33.5,665.7 L47.9,663.5 L58.6,664.7 L79.0,665.7 L88.6,664.7 L117.3,664.7 L124.5,663.5 L134.1,661.1 L141.2,660.2 L149.6,658.5 L156.8,657.8 L164.0,655.4 L172.4,657.1 L191.5,657.3 L225.0,657.3 L234.6,647.7 L240.6,647.7 L249.0,655.2 L257.3,656.6 L264.5,656.6 L271.7,660.7 L278.9,660.4 L287.3,661.1 L299.2,661.6 L311.2,662.1 L318.4,665.7 L327.9,666.2 L349.5,666.6 L359.1,668.1 L363.9,668.6 L380.6,668.6 L387.8,669.5 L397.4,673.3 L402.0,673.8 L418.7,673.8 L425.9,677.9 L437.9,679.1 L495.3,679.1 L503.7,694.6 L510.9,694.6 L519.3,691.0 L532.4,673.8 L542.0,667.6 L549.2,657.5 L557.6,650.3 L565.9,637.2 L573.1,633.1 L580.3,622.8 L588.7,619.7 L603.0,611.6 L610.2,610.1 L619.8,609.7 L627.0,605.3 L634.2,602.5 L641.3,602.5 L649.7,600.6 L655.7,600.1 L665.3,597.2 L672.5,596.2 L727.5,596.2 L734.7,668.3 L742.4,668.3 L750.3,661.6 L773.0,661.6 L780.2,658.7 L790.0,658.5 L794.4,657.5 L803.9,657.5 L812.3,652.5 L819.5,649.2 L827.4,644.1 L835.1,646.1 L843.4,647.3 L849.4,647.3 L857.8,644.9 L866.2,642.7 L874.6,646.8 L958.3,646.8 L966.2,678.4 L974.4,678.4 L981.1,671.9 L990.7,670.0 L996.6,670.0 L1005.0,668.8 L1013.4,668.8 L1020.6,665.7 L1082.8,665.7 L1093.6,663.1 L1105.6,660.4 L1124.7,660.4 L1136.7,658.7 L1143.9,655.6 L1151.0,649.2 L1159.4,644.1 L1167.8,644.9 L1180.0,644.9 L1220.3,644.9 L1227.5,645.3 L1237.0,645.6 L1244.2,649.2 L1251.4,648.5 L1261.0,648.9 L1275.3,648.0 L1283.7,650.8 L1289.7,652.0 L1296.9,652.0 L1306.4,650.8 L1313.6,651.1 L1322.0,652.3 L1330.4,651.3 L1344.7,651.3 L1352.4,655.4 L1374.7,655.4 L1383.0,657.5 L1405.8,657.5 L1414.2,661.6 L1427.3,662.1 L1452.5,662.1 L1459.6,660.9 L1490.8,660.9 L1499.1,663.3 L1509.9,663.1 L1515.9,661.9 L1522.4,660.2 L1522.4,674.0 Z" fill="#2e8555" clip-path="url(#up)"/><path d="M2,674.0 L2.0,662.8 L9.6,662.8 L18.0,666.9 L25.1,667.6 L33.5,665.7 L47.9,663.5 L58.6,664.7 L79.0,665.7 L88.6,664.7 L117.3,664.7 L124.5,663.5 L134.1,661.1 L141.2,660.2 L149.6,658.5 L156.8,657.8 L164.0,655.4 L172.4,657.1 L191.5,657.3 L225.0,657.3 L234.6,647.7 L240.6,647.7 L249.0,655.2 L257.3,656.6 L264.5,656.6 L271.7,660.7 L278.9,660.4 L287.3,661.1 L299.2,661.6 L311.2,662.1 L318.4,665.7 L327.9,666.2 L349.5,666.6 L359.1,668.1 L363.9,668.6 L380.6,668.6 L387.8,669.5 L397.4,673.3 L402.0,673.8 L418.7,673.8 L425.9,677.9 L437.9,679.1 L495.3,679.1 L503.7,694.6 L510.9,694.6 L519.3,691.0 L532.4,673.8 L542.0,667.6 L549.2,657.5 L557.6,650.3 L565.9,637.2 L573.1,633.1 L580.3,622.8 L588.7,619.7 L603.0,611.6 L610.2,610.1 L619.8,609.7 L627.0,605.3 L634.2,602.5 L641.3,602.5 L649.7,600.6 L655.7,600.1 L665.3,597.2 L672.5,596.2 L727.5,596.2 L734.7,668.3 L742.4,668.3 L750.3,661.6 L773.0,661.6 L780.2,658.7 L790.0,658.5 L794.4,657.5 L803.9,657.5 L812.3,652.5 L819.5,649.2 L827.4,644.1 L835.1,646.1 L843.4,647.3 L849.4,647.3 L857.8,644.9 L866.2,642.7 L874.6,646.8 L958.3,646.8 L966.2,678.4 L974.4,678.4 L981.1,671.9 L990.7,670.0 L996.6,670.0 L1005.0,668.8 L1013.4,668.8 L1020.6,665.7 L1082.8,665.7 L1093.6,663.1 L1105.6,660.4 L1124.7,660.4 L1136.7,658.7 L1143.9,655.6 L1151.0,649.2 L1159.4,644.1 L1167.8,644.9 L1180.0,644.9 L1220.3,644.9 L1227.5,645.3 L1237.0,645.6 L1244.2,649.2 L1251.4,648.5 L1261.0,648.9 L1275.3,648.0 L1283.7,650.8 L1289.7,652.0 L1296.9,652.0 L1306.4,650.8 L1313.6,651.1 L1322.0,652.3 L1330.4,651.3 L1344.7,651.3 L1352.4,655.4 L1374.7,655.4 L1383.0,657.5 L1405.8,657.5 L1414.2,661.6 L1427.3,662.1 L1452.5,662.1 L1459.6,660.9 L1490.8,660.9 L1499.1,663.3 L1509.9,663.1 L1515.9,661.9 L1522.4,660.2 L1522.4,674.0 Z" fill="#e00000" clip-path="url(#dn)"/><line x1="2" y1="673.5" x2="1522.4" y2="673.5" stroke="#b0b0b0" stroke-width="1" stroke-dasharray="3 3" shape-rendering="crispEdges"/><polyline points="2.0,662.8 9.6,662.8 18.0,666.9 25.1,667.6 33.5,665.7 47.9,663.5 58.6,664.7 79.0,665.7 88.6,664.7 117.3,664.7 124.5,663.5 134.1,661.1 141.2,660.2 149.6,658.5 156.8,657.8 164.0,655.4 172.4,657.1 191.5,657.3 225.0,657.3 234.6,647.7 240.6,647.7 249.0,655.2 257.3,656.6 264.5,656.6 271.7,660.7 278.9,660.4 287.3,661.1 299.2,661.6 311.2,662.1 318.4,665.7 327.9,666.2 349.5,666.6 359.1,668.1 363.9,668.6 380.6,668.6 387.8,669.5 397.4,673.3 402.0,673.8 418.7,673.8 425.9,677.9 437.9,679.1 495.3,679.1 503.7,694.6 510.9,694.6 519.3,691.0 532.4,673.8 542.0,667.6 549.2,657.5 557.6,650.3 565.9,637.2 573.1,633.1 580.3,622.8 588.7,619.7 603.0,611.6 610.2,610.1 619.8,609.7 627.0,605.3 634.2,602.5 641.3,602.5 649.7,600.6 655.7,600.1 665.3,597.2 672.5,596.2 727.5,596.2 734.7,668.3 742.4,668.3 750.3,661.6 773.0,661.6 780.2,658.7 790.0,658.5 794.4,657.5 803.9,657.5 812.3,652.5 819.5,649.2 827.4,644.1 835.1,646.1 843.4,647.3 849.4,647.3 857.8,644.9 866.2,642.7 874.6,646.8 958.3,646.8 966.2,678.4 974.4,678.4 981.1,671.9 990.7,670.0 996.6,670.0 1005.0,668.8 1013.4,668.8 1020.6,665.7 1082.8,665.7 1093.6,663.1 1105.6,660.4 1124.7,660.4 1136.7,658.7 1143.9,655.6 1151.0,649.2 1159.4,644.1 1167.8,644.9 1180.0,644.9 1220.3,644.9 1227.5,645.3 1237.0,645.6 1244.2,649.2 1251.4,648.5 1261.0,648.9 1275.3,648.0 1283.7,650.8 1289.7,652.0 1296.9,652.0 1306.4,650.8 1313.6,651.1 1322.0,652.3 1330.4,651.3 1344.7,651.3 1352.4,655.4 1374.7,655.4 1383.0,657.5 1405.8,657.5 1414.2,661.6 1427.3,662.1 1452.5,662.1 1459.6,660.9 1490.8,660.9 1499.1,663.3 1509.9,663.1 1515.9,661.9 1522.4,660.2" fill="none" stroke="#262626" stroke-width="1.8" stroke-linejoin="round" /></g><text x="1611.30" y="27.10" text-anchor="start" font-size="12.5" fill="#131722" font-family="Liberation Sans, sans-serif" textLength="49.3" lengthAdjust="spacing"  xml:space="preserve">5,800.00</text><text x="1611.30" y="97.10" text-anchor="start" font-size="12.5" fill="#131722" font-family="Liberation Sans, sans-serif" textLength="49.3" lengthAdjust="spacing"  xml:space="preserve">5,400.00</text><text x="1611.30" y="132.10" text-anchor="start" font-size="12.5" fill="#131722" font-family="Liberation Sans, sans-serif" textLength="49.3" lengthAdjust="spacing"  xml:space="preserve">5,200.00</text><text x="1611.30" y="203.10" text-anchor="start" font-size="12.5" fill="#131722" font-family="Liberation Sans, sans-serif" textLength="49.3" lengthAdjust="spacing"  xml:space="preserve">4,800.00</text><text x="1611.30" y="309.10" text-anchor="start" font-size="12.5" fill="#131722" font-family="Liberation Sans, sans-serif" textLength="49.3" lengthAdjust="spacing"  xml:space="preserve">4,200.00</text><text x="1611.30" y="379.10" text-anchor="start" font-size="12.5" fill="#131722" font-family="Liberation Sans, sans-serif" textLength="49.3" lengthAdjust="spacing"  xml:space="preserve">3,800.00</text><text x="1611.30" y="415.10" text-anchor="start" font-size="12.5" fill="#131722" font-family="Liberation Sans, sans-serif" textLength="49.3" lengthAdjust="spacing"  xml:space="preserve">3,600.00</text><text x="1611.30" y="450.10" text-anchor="start" font-size="12.5" fill="#131722" font-family="Liberation Sans, sans-serif" textLength="49.3" lengthAdjust="spacing"  xml:space="preserve">3,400.00</text><text x="1611.30" y="485.10" text-anchor="start" font-size="12.5" fill="#131722" font-family="Liberation Sans, sans-serif" textLength="49.3" lengthAdjust="spacing"  xml:space="preserve">3,200.00</text><text x="1611.30" y="520.10" text-anchor="start" font-size="12.5" fill="#131722" font-family="Liberation Sans, sans-serif" textLength="49.3" lengthAdjust="spacing"  xml:space="preserve">3,000.00</text><text x="1611.30" y="556.10" text-anchor="start" font-size="12.5" fill="#131722" font-family="Liberation Sans, sans-serif" textLength="49.3" lengthAdjust="spacing"  xml:space="preserve">2,800.00</text><text x="1611.30" y="606.10" text-anchor="start" font-size="12.5" fill="#131722" font-family="Liberation Sans, sans-serif" textLength="37.6" lengthAdjust="spacing"  xml:space="preserve">160.00</text><text x="1611.30" y="654.10" text-anchor="start" font-size="12.5" fill="#131722" font-family="Liberation Sans, sans-serif" textLength="37.6" lengthAdjust="spacing"  xml:space="preserve">120.00</text><text x="1611.30" y="702.10" text-anchor="start" font-size="12.5" fill="#131722" font-family="Liberation Sans, sans-serif" textLength="31" lengthAdjust="spacing"  xml:space="preserve">80.00</text><path d="M1603,50 H1664 Q1666,50 1666,52 V66.5 Q1666,68.5 1664,68.5 H1603 Z" fill="#000"/><text x="1612.00" y="62.75" text-anchor="start" font-size="12.5" fill="#fff" font-family="Liberation Sans, sans-serif" textLength="49.3" lengthAdjust="spacing" stroke="#fff" stroke-width="0.25" xml:space="preserve">5,598.25</text><path d="M1603,142.9 H1664 Q1666,142.9 1666,144.9 V159.1 Q1666,161.1 1664,161.1 H1603 Z" fill="#2962ff"/><text x="1612.00" y="155.50" text-anchor="start" font-size="12.5" fill="#fff" font-family="Liberation Sans, sans-serif" textLength="49.3" lengthAdjust="spacing" stroke="#fff" stroke-width="0.25" xml:space="preserve">5,000.00</text><path d="M1603,161.1 H1664 Q1666,161.1 1666,163.1 V177.6 Q1666,179.6 1664,179.6 H1603 Z" fill="#ff6d00"/><text x="1612.00" y="173.85" text-anchor="start" font-size="12.5" fill="#fff" font-family="Liberation Sans, sans-serif" textLength="49.3" lengthAdjust="spacing" stroke="#fff" stroke-width="0.25" xml:space="preserve">4,968.28</text><path d="M1603,216.9 H1664 Q1666,216.9 1666,218.9 V234.1 Q1666,236.1 1664,236.1 H1603 Z" fill="#2196f3"/><text x="1612.00" y="230.00" text-anchor="start" font-size="12.5" fill="#fff" font-family="Liberation Sans, sans-serif" textLength="49.3" lengthAdjust="spacing" stroke="#fff" stroke-width="0.25" xml:space="preserve">4,611.93</text><path d="M1603,236.1 H1664 Q1666,236.1 1666,238.1 V251.4 Q1666,253.4 1664,253.4 H1603 Z" fill="#000"/><text x="1612.00" y="248.25" text-anchor="start" font-size="12.5" fill="#fff" font-family="Liberation Sans, sans-serif" textLength="49.3" lengthAdjust="spacing" stroke="#fff" stroke-width="0.25" xml:space="preserve">4,549.89</text><path d="M1603,263.1 H1664 Q1666,263.1 1666,265.1 V279.6 Q1666,281.6 1664,281.6 H1603 Z" fill="#f23645"/><text x="1612.00" y="275.85" text-anchor="start" font-size="12.5" fill="#fff" font-family="Liberation Sans, sans-serif" textLength="49.3" lengthAdjust="spacing" stroke="#fff" stroke-width="0.25" xml:space="preserve">4,393.90</text><path d="M1603,281.6 H1664 Q1666,281.6 1666,283.6 V296.2 Q1666,298.2 1664,298.2 H1603 Z" fill="#000"/><text x="1612.00" y="293.40" text-anchor="start" font-size="12.5" fill="#fff" font-family="Liberation Sans, sans-serif" textLength="49.3" lengthAdjust="spacing" stroke="#fff" stroke-width="0.25" xml:space="preserve">4,381.67</text><path d="M1603,314.2 H1664 Q1666,314.2 1666,316.2 V330.9 Q1666,332.9 1664,332.9 H1603 Z" fill="#26c6da"/><text x="1612.00" y="327.05" text-anchor="start" font-size="12.5" fill="#131722" font-family="Liberation Sans, sans-serif" textLength="49.3" lengthAdjust="spacing"  xml:space="preserve">4,101.03</text><path d="M1603,333.4 H1664 Q1666,333.4 1666,335.4 V348.6 Q1666,350.6 1664,350.6 H1603 Z" fill="#000"/><text x="1612.00" y="345.50" text-anchor="start" font-size="12.5" fill="#fff" font-family="Liberation Sans, sans-serif" textLength="49.3" lengthAdjust="spacing" stroke="#fff" stroke-width="0.25" xml:space="preserve">3,998.01</text><path d="M1603,352.1 H1664 Q1666,352.1 1666,354.1 V368.1 Q1666,370.1 1664,370.1 H1603 Z" fill="#000"/><text x="1612.00" y="364.60" text-anchor="start" font-size="12.5" fill="#fff" font-family="Liberation Sans, sans-serif" textLength="49.3" lengthAdjust="spacing" stroke="#fff" stroke-width="0.25" xml:space="preserve">3,886.62</text><path d="M1603,651 H1652 Q1654,651 1654,653 V666.8 Q1654,668.8 1652,668.8 H1603 Z" fill="#000"/><text x="1612.00" y="665.30" text-anchor="start" font-size="12.5" fill="#fff" font-family="Liberation Sans, sans-serif" textLength="37.6" lengthAdjust="spacing" stroke="#fff" stroke-width="0.25" xml:space="preserve">110.91</text><path d="M1603,668.8 H1652 Q1654,668.8 1654,670.8 V685.8 Q1654,687.8 1652,687.8 H1603 Z" fill="#ababab"/><text x="1612.00" y="682.80" text-anchor="start" font-size="12.5" fill="#131722" font-family="Liberation Sans, sans-serif" textLength="37.6" lengthAdjust="spacing"  xml:space="preserve">100.00</text><text x="64.5" y="724" text-anchor="middle" font-size="12" font-weight="normal" fill="#131722" font-family="Liberation Sans, sans-serif">Jul</text><text x="149.5" y="724" text-anchor="middle" font-size="12" font-weight="normal" fill="#131722" font-family="Liberation Sans, sans-serif">16</text><text x="241.5" y="724" text-anchor="middle" font-size="12" font-weight="normal" fill="#131722" font-family="Liberation Sans, sans-serif">Aug</text><text x="403.5" y="724" text-anchor="middle" font-size="12" font-weight="normal" fill="#131722" font-family="Liberation Sans, sans-serif">Sep</text><text x="488.5" y="724" text-anchor="middle" font-size="12" font-weight="normal" fill="#131722" font-family="Liberation Sans, sans-serif">16</text><text x="573.5" y="724" text-anchor="middle" font-size="12" font-weight="normal" fill="#131722" font-family="Liberation Sans, sans-serif">Oct</text><text x="658.5" y="724" text-anchor="middle" font-size="12" font-weight="normal" fill="#131722" font-family="Liberation Sans, sans-serif">16</text><text x="750.5" y="724" text-anchor="middle" font-size="12" font-weight="normal" fill="#131722" font-family="Liberation Sans, sans-serif">Nov</text><text x="905.5" y="724" text-anchor="middle" font-size="12" font-weight="normal" fill="#131722" font-family="Liberation Sans, sans-serif">Dec</text><text x="990.5" y="724" text-anchor="middle" font-size="12" font-weight="normal" fill="#131722" font-family="Liberation Sans, sans-serif">16</text><text x="1075.5" y="724" text-anchor="middle" font-size="12" font-weight="bold" fill="#131722" font-family="Liberation Sans, sans-serif">2026</text><text x="1159.5" y="724" text-anchor="middle" font-size="12" font-weight="normal" fill="#131722" font-family="Liberation Sans, sans-serif">16</text><text x="1244.5" y="724" text-anchor="middle" font-size="12" font-weight="normal" fill="#131722" font-family="Liberation Sans, sans-serif">Feb</text><text x="1399.5" y="724" text-anchor="middle" font-size="12" font-weight="normal" fill="#131722" font-family="Liberation Sans, sans-serif">Mar</text><text x="1483.5" y="724" text-anchor="middle" font-size="12" font-weight="normal" fill="#131722" font-family="Liberation Sans, sans-serif">17</text><text x="1584.5" y="724" text-anchor="middle" font-size="12" font-weight="normal" fill="#131722" font-family="Liberation Sans, sans-serif">Apr</text><text x="8.60" y="20.80" text-anchor="start" font-size="12.5" fill="#131722" font-family="Liberation Sans, sans-serif" textLength="74.4" lengthAdjust="spacing"  xml:space="preserve">XAU/USD, 1D</text><text x="90.60" y="20.80" text-anchor="start" font-size="12.5" fill="#131722" font-family="Liberation Sans, sans-serif"  xml:space="preserve">O</text><text x="99.00" y="20.80" text-anchor="start" font-size="12.5" fill="#f23645" font-family="Liberation Sans, sans-serif" textLength="48.8" lengthAdjust="spacing"  xml:space="preserve">4,413.73</text><text x="155.40" y="20.80" text-anchor="start" font-size="12.5" fill="#131722" font-family="Liberation Sans, sans-serif"  xml:space="preserve">H</text><text x="164.00" y="20.80" text-anchor="start" font-size="12.5" fill="#f23645" font-family="Liberation Sans, sans-serif" textLength="48.2" lengthAdjust="spacing"  xml:space="preserve">4,448.33</text><text x="220.60" y="20.80" text-anchor="start" font-size="12.5" fill="#131722" font-family="Liberation Sans, sans-serif"  xml:space="preserve">L</text><text x="227.00" y="20.80" text-anchor="start" font-size="12.5" fill="#f23645" font-family="Liberation Sans, sans-serif" textLength="48.2" lengthAdjust="spacing"  xml:space="preserve">4,306.09</text><text x="282.80" y="20.80" text-anchor="start" font-size="12.5" fill="#131722" font-family="Liberation Sans, sans-serif"  xml:space="preserve">C</text><text x="291.40" y="20.80" text-anchor="start" font-size="12.5" fill="#f23645" font-family="Liberation Sans, sans-serif" textLength="48.2" lengthAdjust="spacing"  xml:space="preserve">4,393.90</text><text x="347.80" y="20.80" text-anchor="start" font-size="12.5" fill="#f23645" font-family="Liberation Sans, sans-serif" textLength="86.6" lengthAdjust="spacing"  xml:space="preserve">-13.33 (−0.30%)</text><text x="8.60" y="38.70" text-anchor="start" font-size="12.5" fill="#131722" font-family="Liberation Sans, sans-serif" textLength="251.2" lengthAdjust="spacing"  xml:space="preserve">Moving Average Triple (50, 100, 200, Simple)</text><text x="268.00" y="38.70" text-anchor="start" font-size="12.5" fill="#ff6d00" font-family="Liberation Sans, sans-serif" textLength="49.2" lengthAdjust="spacing"  xml:space="preserve">4,968.28</text><text x="324.80" y="38.70" text-anchor="start" font-size="12.5" fill="#2196f3" font-family="Liberation Sans, sans-serif" textLength="48.6" lengthAdjust="spacing"  xml:space="preserve">4,611.93</text><text x="381.10" y="38.70" text-anchor="start" font-size="12.5" fill="#26c6da" font-family="Liberation Sans, sans-serif" textLength="48.9" lengthAdjust="spacing"  xml:space="preserve">4,101.03</text><text x="8.60" y="56.70" text-anchor="start" font-size="12.5" fill="#131722" font-family="Liberation Sans, sans-serif" textLength="157" lengthAdjust="spacing"  xml:space="preserve">Pivots (Traditional, Daily, 1)</text><text x="9.10" y="603.90" text-anchor="start" font-size="12.5" fill="#131722" font-family="Liberation Sans, sans-serif" textLength="181.3" lengthAdjust="spacing"  xml:space="preserve">FXS Fed Sentiment Index (close)</text><text x="198.80" y="603.90" text-anchor="start" font-size="12.5" fill="#131722" font-family="Liberation Sans, sans-serif" textLength="36.6" lengthAdjust="spacing"  xml:space="preserve">110.91</text><text x="244.30" y="603.90" text-anchor="start" font-size="12.5" fill="#a0a0a0" font-family="Liberation Sans, sans-serif" textLength="36.9" lengthAdjust="spacing"  xml:space="preserve">100.00</text></svg>
</body></html>
